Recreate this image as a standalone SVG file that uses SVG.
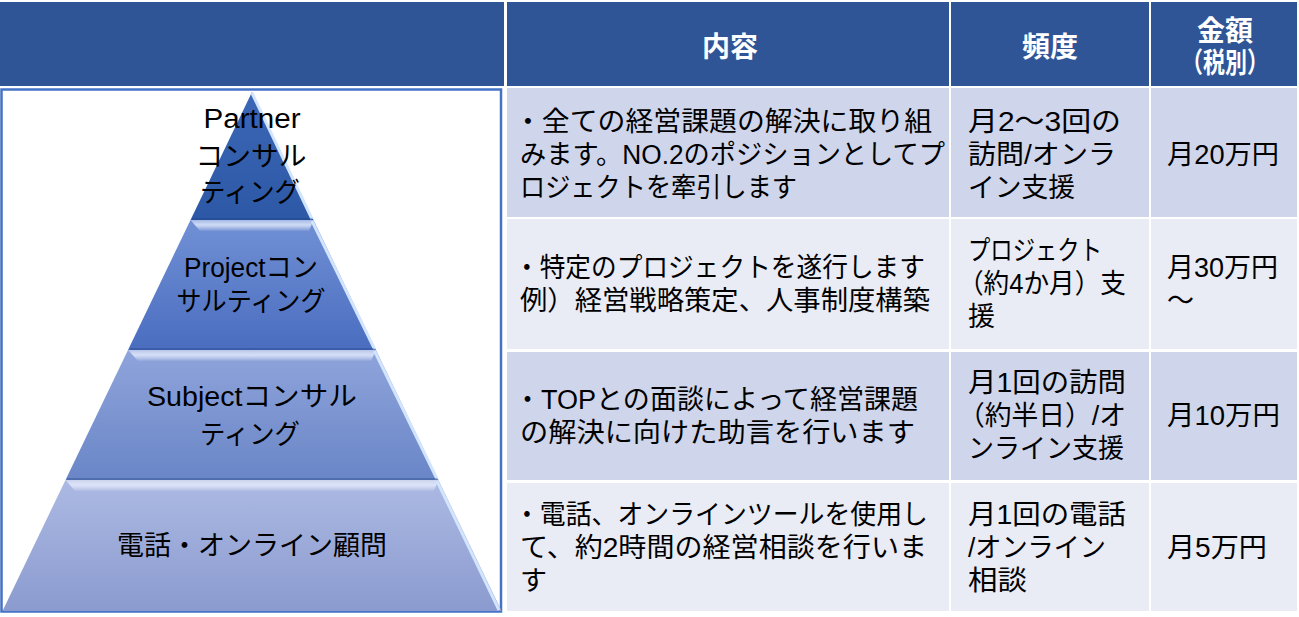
<svg xmlns="http://www.w3.org/2000/svg" width="1299" height="617" viewBox="0 0 1299 617">
<defs>
<style>
.t{font-family:"Liberation Sans","Noto Sans CJK JP",sans-serif;font-size:27px;fill:#000}
.h{font-family:"Liberation Sans","Noto Sans CJK JP",sans-serif;font-size:28px;font-weight:bold;fill:#fff;text-anchor:middle}
.p{font-family:"Liberation Sans","Noto Sans CJK JP",sans-serif;font-size:27px;fill:#000;text-anchor:middle}
.hd{fill:#2F5597}
.odd{fill:#CFD5EA}
.even{fill:#E9EBF5}
.bev{fill:url(#gBev)}
.hl{stroke:#D2E5FC;stroke-width:3;fill:none}
.sh{stroke:#1F3F80;stroke-opacity:0.35;stroke-width:2}
</style>
<linearGradient id="g1" x1="0" y1="0" x2="0" y2="1"><stop offset="0" stop-color="#3B67B6"/><stop offset="1" stop-color="#2C58A6"/></linearGradient>
<linearGradient id="g2" x1="0" y1="0" x2="0" y2="1"><stop offset="0" stop-color="#7190D5"/><stop offset="1" stop-color="#4A6DBF"/></linearGradient>
<linearGradient id="g3" x1="0" y1="0" x2="0" y2="1"><stop offset="0" stop-color="#8FA4DB"/><stop offset="1" stop-color="#6A86C7"/></linearGradient>
<linearGradient id="g4" x1="0" y1="0" x2="0" y2="1"><stop offset="0" stop-color="#ACB9E3"/><stop offset="1" stop-color="#8B9BCF"/></linearGradient>
<linearGradient id="gBev" x1="0" y1="0" x2="0" y2="1"><stop offset="0" stop-color="#FFFFFF" stop-opacity="0.35"/><stop offset="0.45" stop-color="#E6EEFF" stop-opacity="0.8"/><stop offset="1" stop-color="#FFFFFF" stop-opacity="0.05"/></linearGradient>
</defs>
<rect width="1299" height="617" fill="#fff"/>

<g id="header">
<rect class="hd" x="0" y="2" width="504" height="84"/>
<rect class="hd" x="507" y="2" width="442" height="84"/>
<rect class="hd" x="951" y="2" width="198" height="84"/>
<rect class="hd" x="1151" y="2" width="146" height="84"/>
<text class="h" x="730" y="57">内容</text>
<text class="h" x="1050" y="57">頻度</text>
<text class="h" x="1225" y="41">金額</text>
<text class="h" x="1225" y="73" textLength="88" lengthAdjust="spacingAndGlyphs">（税別）</text>
</g>

<g id="pyramid-frame">
<rect x="1.5" y="89.5" width="499.5" height="522" fill="#fff" stroke="#4472C4" stroke-width="2.5"/>
</g>

<g id="tier4">
<polygon points="65.5,480 438.5,480 501.5,611 2.5,611" fill="url(#g4)"/>
<polygon class="bev" points="65.5,480 438.5,480 434,491 75,491"/>
<line class="hl" x1="437" y1="481" x2="499" y2="610"/>
<text class="p" x="252" y="555" textLength="270" lengthAdjust="spacingAndGlyphs">電話・オンライン顧問</text>
</g>

<g id="tier3">
<polygon points="128,350 376,350 438.5,480 65.5,480" fill="url(#g3)"/>
<polygon class="bev" points="128,350 376,350 371,361 138,361"/>
<line class="hl" x1="374.5" y1="351" x2="437" y2="479"/>
<line class="sh" x1="67" y1="479" x2="437" y2="479"/>
<text class="p" x="252" y="406" textLength="210" lengthAdjust="spacingAndGlyphs">Subjectコンサル</text>
<text class="p" x="250" y="444" textLength="100" lengthAdjust="spacingAndGlyphs">ティング</text>
</g>

<g id="tier2">
<polygon points="190.5,220 313.5,220 376,350 128,350" fill="url(#g2)"/>
<polygon class="bev" points="190.5,220 313.5,220 309,231 200,231"/>
<line class="hl" x1="312" y1="221" x2="374.5" y2="349"/>
<line class="sh" x1="130" y1="349" x2="374" y2="349"/>
<text class="p" x="251" y="277" textLength="134" lengthAdjust="spacingAndGlyphs">Projectコン</text>
<text class="p" x="251" y="311" textLength="149" lengthAdjust="spacingAndGlyphs">サルティング</text>
</g>

<g id="tier1">
<polygon points="252,92 313.5,220 190.5,220" fill="url(#g1)"/>
<line class="hl" x1="252" y1="93" x2="312" y2="219"/>
<line class="sh" x1="192" y1="219" x2="312" y2="219"/>
<text class="p" x="252" y="128" textLength="97" lengthAdjust="spacingAndGlyphs">Partner</text>
<text class="p" x="251" y="166" textLength="111" lengthAdjust="spacingAndGlyphs">コンサル</text>
<text class="p" x="250" y="202" textLength="100" lengthAdjust="spacingAndGlyphs">ティング</text>
</g>

<g id="row1">
<rect class="odd" x="507" y="88" width="442" height="129"/>
<rect class="odd" x="951" y="88" width="198" height="129"/>
<rect class="odd" x="1151" y="88" width="146" height="129"/>
<text class="t" x="514" y="131" textLength="418" lengthAdjust="spacingAndGlyphs">・全ての経営課題の解決に取り組</text>
<text class="t" x="520" y="164" textLength="425" lengthAdjust="spacingAndGlyphs">みます。NO.2のポジションとしてプ</text>
<text class="t" x="520" y="197" textLength="277" lengthAdjust="spacingAndGlyphs">ロジェクトを牽引します</text>
<text class="t" x="968" y="131" textLength="153" lengthAdjust="spacingAndGlyphs">月2〜3回の</text>
<text class="t" x="968" y="164" textLength="148" lengthAdjust="spacingAndGlyphs">訪問/オンラ</text>
<text class="t" x="968" y="197" textLength="107" lengthAdjust="spacingAndGlyphs">イン支援</text>
<text class="t" x="1167" y="164" textLength="112" lengthAdjust="spacingAndGlyphs">月20万円</text>
</g>

<g id="row2">
<rect class="even" x="507" y="219" width="442" height="130"/>
<rect class="even" x="951" y="219" width="198" height="130"/>
<rect class="even" x="1151" y="219" width="146" height="130"/>
<text class="t" x="514" y="277" textLength="411" lengthAdjust="spacingAndGlyphs">・特定のプロジェクトを遂行します</text>
<text class="t" x="520" y="310" textLength="410" lengthAdjust="spacingAndGlyphs">例）経営戦略策定、人事制度構築</text>
<text class="t" x="968" y="260" textLength="134" lengthAdjust="spacingAndGlyphs">プロジェクト</text>
<text class="t" x="958" y="293" textLength="168" lengthAdjust="spacingAndGlyphs">（約4か月）支</text>
<text class="t" x="968" y="326">援</text>
<text class="t" x="1167" y="277" textLength="111" lengthAdjust="spacingAndGlyphs">月30万円</text>
<text class="t" x="1167" y="310">〜</text>
</g>

<g id="row3">
<rect class="odd" x="507" y="352" width="442" height="128"/>
<rect class="odd" x="951" y="352" width="198" height="128"/>
<rect class="odd" x="1151" y="352" width="146" height="128"/>
<text class="t" x="514" y="409" textLength="404" lengthAdjust="spacingAndGlyphs">・TOPとの面談によって経営課題</text>
<text class="t" x="520" y="442" textLength="395" lengthAdjust="spacingAndGlyphs">の解決に向けた助言を行います</text>
<text class="t" x="968" y="392" textLength="158" lengthAdjust="spacingAndGlyphs">月1回の訪問</text>
<text class="t" x="958" y="425" textLength="168" lengthAdjust="spacingAndGlyphs">（約半日）/オ</text>
<text class="t" x="968" y="458" textLength="156" lengthAdjust="spacingAndGlyphs">ンライン支援</text>
<text class="t" x="1167" y="425" textLength="113" lengthAdjust="spacingAndGlyphs">月10万円</text>
</g>

<g id="row4">
<rect class="even" x="507" y="483" width="442" height="128"/>
<rect class="even" x="951" y="483" width="198" height="128"/>
<rect class="even" x="1151" y="483" width="146" height="128"/>
<text class="t" x="514" y="524" textLength="414" lengthAdjust="spacingAndGlyphs">・電話、オンラインツールを使用し</text>
<text class="t" x="520" y="557" textLength="407" lengthAdjust="spacingAndGlyphs">て、約2時間の経営相談を行いま</text>
<text class="t" x="520" y="590">す</text>
<text class="t" x="968" y="524" textLength="158" lengthAdjust="spacingAndGlyphs">月1回の電話</text>
<text class="t" x="968" y="557" textLength="138" lengthAdjust="spacingAndGlyphs">/オンライン</text>
<text class="t" x="968" y="590" textLength="59" lengthAdjust="spacingAndGlyphs">相談</text>
<text class="t" x="1167" y="557" textLength="100" lengthAdjust="spacingAndGlyphs">月5万円</text>
</g>
</svg>
